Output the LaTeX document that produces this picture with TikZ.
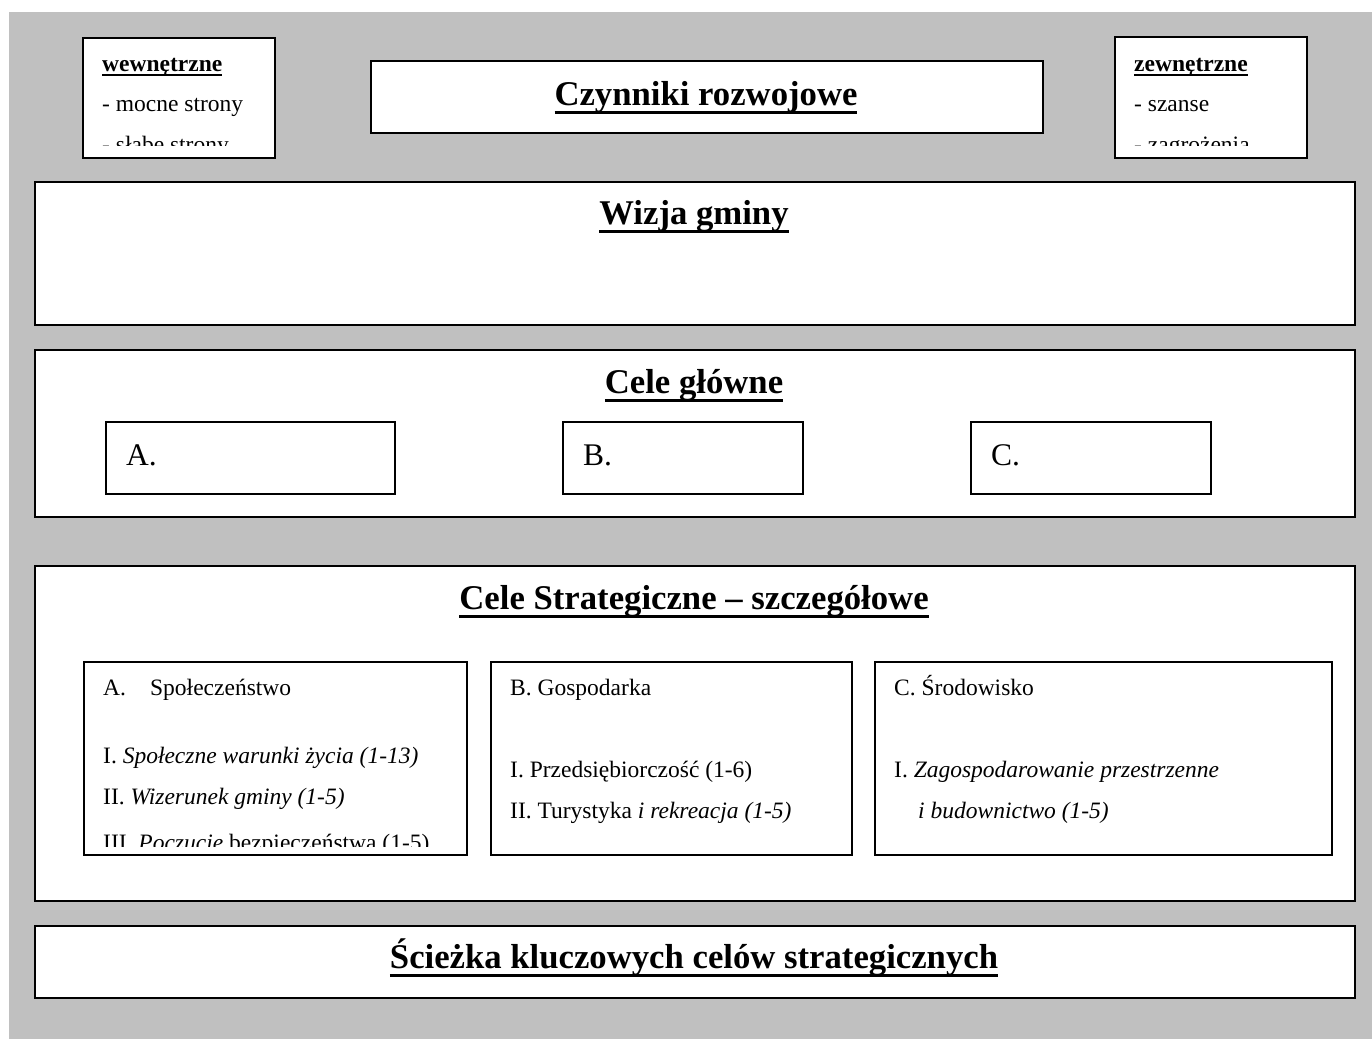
\documentclass[tikz,border=0pt]{standalone}
\usepackage{fontspec}
\setmainfont{Liberation Serif}

\definecolor{tlo}{RGB}{192,192,192}
% underline: #1 depth, #2 thickness, #3 text
\newcommand\podkresl[3]{\setbox0\hbox{#3}\rlap{\rule[-#1]{\wd0}{#2}}\box0}

\begin{document}
\begin{tikzpicture}[x=1pt,y=-1pt,
  ramka/.style={draw=black,line width=2pt,fill=white,inner sep=0pt,anchor=north west},
  tytul/.style={font=\fontsize{34.7}{40}\selectfont\bfseries,inner sep=0pt,anchor=base},
  opis/.style={font=\fontsize{23.5}{28}\selectfont,inner sep=0pt,anchor=base west},
  litera/.style={font=\fontsize{31.5}{36}\selectfont,inner sep=0pt,anchor=base west}]
  \useasboundingbox (0,0) rectangle (1372,1039);
  \fill[tlo] (9,12) rectangle (1372,1039);

  % top row
  \node[ramka,minimum width=192,minimum height=120] (wewn) at (82,37) {};
  \node[ramka,minimum width=672,minimum height=72] (czynniki) at (370,60) {};
  \node[ramka,minimum width=192,minimum height=121] (zewn) at (1114,36) {};
  \node[tytul] (czynniki-t) at (706,105) {\podkresl{9pt}{3.5pt}{Czynniki rozwojowe}};
  \begin{scope}
    \clip (82,37) rectangle (274,145);
    \node[opis] (wewn-t) at (102,71) {\bfseries\podkresl{5pt}{2.5pt}{wewnętrzne}};
    \node[opis] (wewn-1) at (102,111) {- mocne strony};
    \node[opis] (wewn-2) at (102,152) {- słabe strony};
  \end{scope}
  \begin{scope}
    \clip (1114,36) rectangle (1306,145);
    \node[opis] (zewn-t) at (1134,71) {\bfseries\podkresl{5pt}{2.5pt}{zewnętrzne}};
    \node[opis] (zewn-1) at (1134,111) {- szanse};
    \node[opis] (zewn-2) at (1134,152) {- zagrożenia};
  \end{scope}

  % vision
  \node[ramka,minimum width=1320,minimum height=143] (wizja) at (34,181) {};
  \node[tytul] (wizja-t) at (694,224) {\podkresl{9pt}{3.5pt}{Wizja gminy}};

  % main goals
  \node[ramka,minimum width=1320,minimum height=167] (glowne) at (34,349) {};
  \node[tytul] (glowne-t) at (694,393) {\podkresl{9pt}{3.5pt}{Cele główne}};
  \foreach \lit/\xs/\szer in {A/105/289,B/562/240,C/970/240}{
    \node[ramka,minimum width=\szer,minimum height=72] (cel\lit) at (\xs,421) {};
    \node[litera] (cel\lit-t) at (\xs+21,465) {\lit.};
  }

  % strategic goals
  \node[ramka,minimum width=1320,minimum height=335] (strat) at (34,565) {};
  \node[tytul] (strat-t) at (694,609) {\podkresl{9pt}{3.5pt}{Cele Strategiczne – szczegółowe}};
  \node[ramka,minimum width=383,minimum height=193] (spol) at (83,661) {};
  \node[ramka,minimum width=361,minimum height=193] (gosp) at (490,661) {};
  \node[ramka,minimum width=457,minimum height=193] (srod) at (874,661) {};
  \begin{scope}
    \clip (83,661) rectangle (466,846);
    \node[opis] (spol-t) at (103,695) {\makebox[47pt][l]{A.}Społeczeństwo};
    \node[opis] (spol-1) at (103,763) {I. \textit{Społeczne warunki życia (1-13)}};
    \node[opis] (spol-2) at (103,804) {II. \textit{Wizerunek gminy (1-5)}};
    \node[opis] (spol-3) at (103,850) {III. \textit{Poczucie} bezpieczeństwa (1-5)};
  \end{scope}
  \begin{scope}
    \clip (490,661) rectangle (851,846);
    \node[opis] (gosp-t) at (510,695) {B. Gospodarka};
    \node[opis] (gosp-1) at (510,777) {I. Przedsiębiorczość (1-6)};
    \node[opis] (gosp-2) at (510,818) {II. Turystyka \textit{i rekreacja (1-5)}};
  \end{scope}
  \begin{scope}
    \clip (874,661) rectangle (1331,846);
    \node[opis] (srod-t) at (894,695) {C. Środowisko};
    \node[opis] (srod-1) at (894,777) {I. \textit{Zagospodarowanie przestrzenne}};
    \node[opis] (srod-2) at (918,818) {\textit{i budownictwo (1-5)}};
  \end{scope}

  % path
  \node[ramka,minimum width=1320,minimum height=72] (sciezka) at (34,925) {};
  \node[tytul] (sciezka-t) at (694,968) {\podkresl{9pt}{3.5pt}{Ścieżka kluczowych celów strategicznych}};
\end{tikzpicture}
\end{document}
